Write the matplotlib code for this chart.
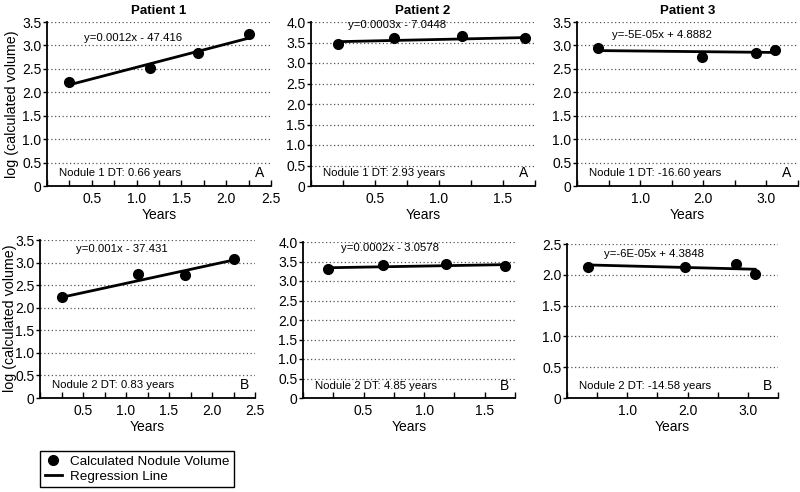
import matplotlib
matplotlib.use('Agg')
import matplotlib.pyplot as plt
from matplotlib.lines import Line2D
from matplotlib.ticker import MultipleLocator, FuncFormatter

plt.rcParams['font.family'] = ['Liberation Sans', 'DejaVu Sans']

# measured points (years, log volume)
p1a_x = [0.25, 1.15, 1.68, 2.26]
p1a_y = [2.22, 2.51, 2.83, 3.24]
p2a_x = [0.21, 0.65, 1.18, 1.67]
p2a_y = [3.46, 3.60, 3.66, 3.61]
p3a_x = [0.34, 1.98, 2.83, 3.13]
p3a_y = [2.94, 2.75, 2.84, 2.90]
p1b_x = [0.25, 1.14, 1.69, 2.26]
p1b_y = [2.24, 2.75, 2.73, 3.08]
p2b_x = [0.21, 0.66, 1.18, 1.67]
p2b_y = [3.30, 3.41, 3.44, 3.38]
p3b_x = [0.35, 1.96, 2.81, 3.12]
p3b_y = [2.13, 2.12, 2.17, 2.01]

# regression line end points
p1a_reg = [2.16, 3.16]
p2a_reg = [3.52, 3.62]
p3a_reg = [2.89, 2.85]
p1b_reg = [2.23, 3.06]
p2b_reg = [3.34, 3.42]
p3b_reg = [2.16, 2.09]

equations = ['y=0.0012x - 47.416', 'y=0.0003x - 7.0448', 'y=-5E-05x + 4.8882',
             'y=0.001x - 37.431', 'y=0.0002x - 3.0578', 'y=-6E-05x + 4.3848']
dt_labels = ['Nodule 1 DT: 0.66 years', 'Nodule 1 DT: 2.93 years', 'Nodule 1 DT: -16.60 years',
             'Nodule 2 DT: 0.83 years', 'Nodule 2 DT: 4.85 years', 'Nodule 2 DT: -14.58 years']
titles = ['Patient 1', 'Patient 2', 'Patient 3']

W, H = 800, 492
fig = plt.figure(figsize=(W / 100, H / 100), dpi=100)


def add_ax(left, right, top, bottom):
    return fig.add_axes([left / W, 1 - bottom / H, (right - left) / W, (bottom - top) / H])


def yfmt(v, pos):
    return '0' if abs(v) < 1e-9 else '%.1f' % v


panels = [
    # box, xs, ys, reg, xmax, xmajor, ymax, eq pos, letter
    ((47, 271, 22, 186), p1a_x, p1a_y, p1a_reg, 2.5, 0.5, 3.5, (0.385, 0.90), 'A'),
    ((311, 535, 22, 186), p2a_x, p2a_y, p2a_reg, 1.75, 0.5, 4.0, (0.385, 0.98), 'A'),
    ((577, 798, 22, 186), p3a_x, p3a_y, p3a_reg, 3.5, 1.0, 3.5, (0.385, 0.92), 'A'),
    ((40, 255, 240, 398), p1b_x, p1b_y, p1b_reg, 2.5, 0.5, 3.5, (0.38, 0.94), 'B'),
    ((303, 515, 242, 398), p2b_x, p2b_y, p2b_reg, 1.75, 0.5, 4.0, (0.41, 0.96), 'B'),
    ((567, 778, 244, 398), p3b_x, p3b_y, p3b_reg, 3.5, 1.0, 2.5, (0.41, 0.935), 'B'),
]

for i, (box, xs, ys, reg, xmax, xmaj, ymax, eqpos, letter) in enumerate(panels):
    ax = add_ax(*box)
    ax.plot([xs[0], xs[-1]], reg, color='black', lw=2, zorder=3)
    ax.plot(xs, ys, 'o', color='black', ms=7, zorder=4)
    ax.set_xlim(0, xmax)
    ax.set_ylim(0, ymax)
    ax.spines['top'].set_visible(False)
    ax.spines['right'].set_visible(False)
    ax.spines['left'].set_linewidth(1.3)
    ax.spines['bottom'].set_linewidth(1.3)
    ax.xaxis.set_major_locator(MultipleLocator(xmaj))
    ax.xaxis.set_minor_locator(MultipleLocator(xmaj / 2))
    ax.xaxis.set_major_formatter(FuncFormatter(lambda v, p: '' if v < 1e-9 else '%.1f' % v))
    ax.yaxis.set_major_locator(MultipleLocator(0.5))
    ax.yaxis.set_major_formatter(FuncFormatter(yfmt))
    ax.tick_params(axis='x', which='both', direction='in', length=4, width=1, labelsize=10, pad=4)
    ax.tick_params(axis='y', direction='out', length=3, width=1, labelsize=10, pad=1)
    ax.yaxis.grid(True, linestyle=(0, (1, 2)), color='#555555', lw=0.9)
    ax.set_axisbelow(True)
    ax.set_xlabel('Years', fontsize=10, labelpad=2)
    if i < 3:
        ax.set_title(titles[i], fontsize=9.5, fontweight='bold', pad=6)
    ax.text(eqpos[0], eqpos[1], equations[i], transform=ax.transAxes,
            ha='center', va='center', fontsize=8.2)
    ax.text(0.055, 0.08, dt_labels[i], transform=ax.transAxes,
            ha='left', va='center', fontsize=8.2)
    ax.text(0.95, 0.08, letter, transform=ax.transAxes,
            ha='center', va='center', fontsize=10)

# shared y labels, one per row
fig.text(12 / W, 1 - 104 / H, 'log (calculated volume)', rotation=90,
         ha='center', va='center', fontsize=10.3)
fig.text(10 / W, 1 - 318 / H, 'log (calculated volume)', rotation=90,
         ha='center', va='center', fontsize=10.3)

handles = [Line2D([], [], marker='o', color='black', ls='none', ms=7),
           Line2D([], [], color='black', lw=2)]
fig.legend(handles, ['Calculated Nodule Volume', 'Regression Line'],
           loc='upper left', bbox_to_anchor=(40 / W, 1 - 451 / H),
           fontsize=9.7, frameon=True, fancybox=False, edgecolor='black',
           framealpha=1, borderaxespad=0, handlelength=1.3, handletextpad=0.6,
           borderpad=0.35, labelspacing=0.15)

fig.savefig('out.png', dpi=100)
